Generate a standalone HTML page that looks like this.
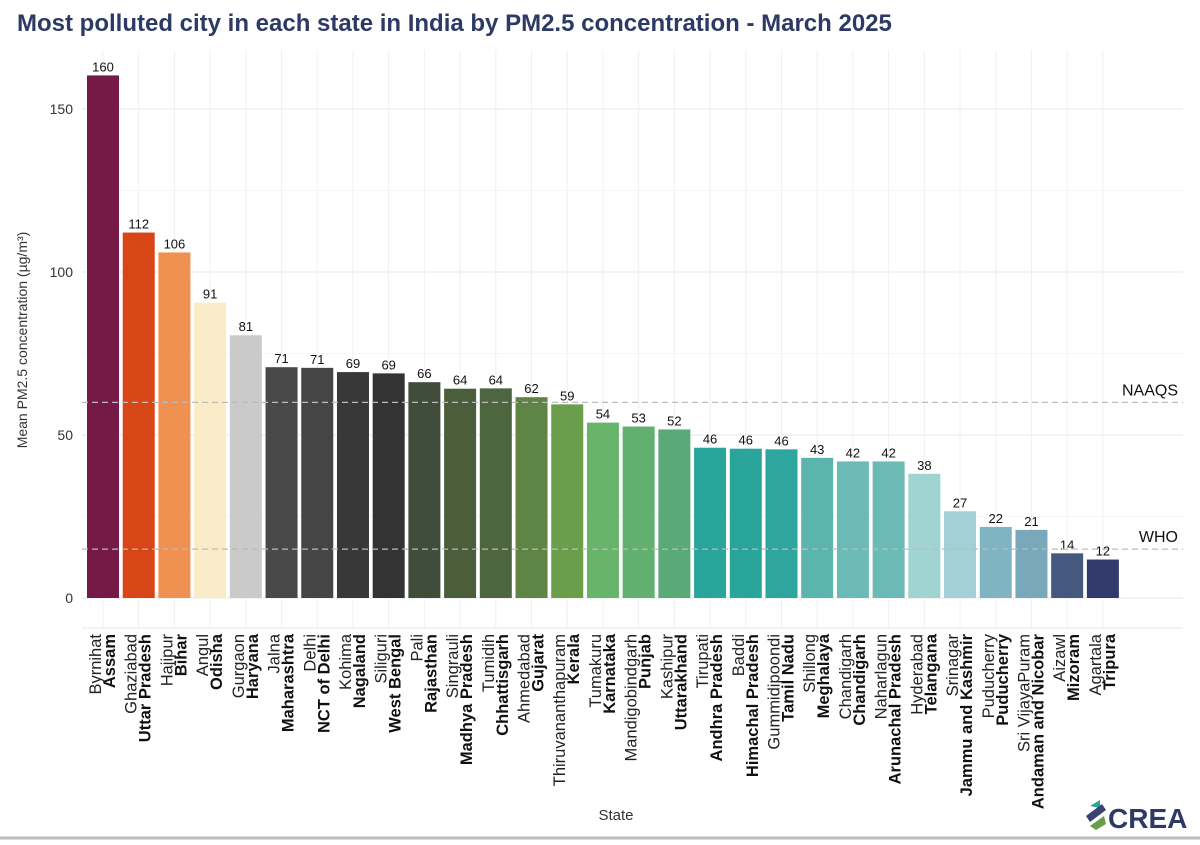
<!DOCTYPE html>
<html><head><meta charset="utf-8"><style>
body{margin:0;background:#fff;width:1200px;height:840px;overflow:hidden;font-family:"Liberation Sans",sans-serif}
</style></head><body>
<svg id="chart" width="1200" height="840" xmlns="http://www.w3.org/2000/svg">
<text x="17" y="31" font-size="24" font-weight="bold" fill="#2e3a66">Most polluted city in each state in India by PM2.5 concentration - March 2025</text>
<g id="grid"></g><g id="bars"></g><g id="labels"></g>
<text transform="translate(27,340) rotate(-90)" text-anchor="middle" font-size="14" fill="#333">Mean PM2.5 concentration (µg/m³)</text>
<text x="616" y="820" text-anchor="middle" font-size="15" fill="#333">State</text>
<g>
<path d="M1090 806 l10 -6 l0 8 z" fill="#2aa59b"/><path d="M1086 816 l16 -12 l4 6 l-16 12 z" fill="#3a4470"/><path d="M1090 826 l14 -10 l2 8 l-10 6 z" fill="#6a9e4b"/>
<text x="1108" y="828" font-size="28" font-weight="bold" fill="#2e3a66">CREA</text></g>
<line x1="0" y1="838" x2="1200" y2="838" stroke="#bbb" stroke-width="3"/>
</svg>
<script>
const cities=["Byrnihat","Ghaziabad","Hajipur","Angul","Gurgaon","Jalna","Delhi","Kohima","Siliguri","Pali","Singrauli","Tumidih","Ahmedabad","Thiruvananthapuram","Tumakuru","Mandigobindgarh","Kashipur","Tirupati","Baddi","Gummidipoondi","Shillong","Chandigarh","Naharlagun","Hyderabad","Srinagar","Puducherry","Sri VijayaPuram","Aizawl","Agartala"];
const states=["Assam","Uttar Pradesh","Bihar","Odisha","Haryana","Maharashtra","NCT of Delhi","Nagaland","West Bengal","Rajasthan","Madhya Pradesh","Chhattisgarh","Gujarat","Kerala","Karnataka","Punjab","Uttarakhand","Andhra Pradesh","Himachal Pradesh","Tamil Nadu","Meghalaya","Chandigarh","Arunachal Pradesh","Telangana","Jammu and Kashmir","Puducherry","Andaman and Nicobar","Mizoram","Tripura"];
const values=[160.3,112.1,106.0,90.6,80.6,70.8,70.6,69.3,68.9,66.2,64.2,64.3,61.6,59.4,53.8,52.6,51.7,46.1,45.8,45.6,43.0,41.9,41.9,38.1,26.6,21.8,20.9,13.7,11.8];
const colors=["#751a47","#d84516","#ef9150","#faecc9","#cacaca","#484848","#454545","#383838","#333333","#3f4d3a","#4a5e3c","#4d6640","#5e8545","#6a9e4b","#67b46b","#62b070","#5aaa78","#2aa59b","#2aa59b","#2fa69d","#5bb5ae","#6cbab5","#6cbab5","#9fd4d3","#a2d0d6","#80b4c3","#7aa8bb","#45587e","#323b6b"];
const yTicks=[0,50,100,150];
const yMinor=[25,75,125];
const refLines=[{name:"NAAQS",v:60},{name:"WHO",v:15}];
const NS="http://www.w3.org/2000/svg";
const PL=82,PR=1183,PT=50,PB=628;
const y=v=>598-v*3.26;
const step=35.71;
const x=i=>103+i*step;
function mk(tag,attrs,parent){const e=document.createElementNS(NS,tag);for(const k in attrs)e.setAttribute(k,attrs[k]);parent.appendChild(e);return e;}
const grid=document.getElementById('grid'),bars=document.getElementById('bars'),labels=document.getElementById('labels');
yMinor.forEach(t=>{const l=mk('line',{x1:PL,x2:PR,y1:y(t),y2:y(t),stroke:'#f6f6f6','stroke-width':1},grid);

});
yTicks.forEach(t=>{const l=mk('line',{x1:PL,x2:PR,y1:y(t),y2:y(t),stroke:'#ececec','stroke-width':1.2},grid);


const tx=mk('text',{x:73,y:y(t)+5,'text-anchor':'end','font-size':14,fill:'#333'},grid);tx.textContent=t;

});
cities.forEach((c,i)=>{const l=mk('line',{x1:x(i),x2:x(i),y1:PT,y2:PB,stroke:'#f0f0f0','stroke-width':1},grid);

});
mk('line',{x1:PL,x2:PR,y1:PB,y2:PB,stroke:'#ececec','stroke-width':1.2},grid);
values.forEach((v,i)=>{
const r=mk('rect',{x:x(i)-16,y:y(v),width:32,height:y(0)-y(v),fill:colors[i]},bars);


const t=mk('text',{x:x(i),y:y(v)-4,'text-anchor':'middle','font-size':13,fill:'#111'},bars);t.textContent=Math.round(v);


const g=mk('text',{transform:`translate(${x(i)},634) rotate(-90)`,'text-anchor':'end','font-size':16.5,fill:'#222'},labels);


const s1=mk('tspan',{x:0,y:-2},g);s1.textContent=cities[i];
const s2=mk('tspan',{x:0,y:12,'font-weight':'bold',fill:'#111'},g);s2.textContent=states[i];
});
refLines.forEach(r=>{const l=mk('line',{x1:PL,x2:PR,y1:y(r.v),y2:y(r.v),stroke:'#bbb','stroke-width':1.2,'stroke-dasharray':'6,4'},bars);


const t=mk('text',{x:1178,y:y(r.v)-7,'text-anchor':'end','font-size':16,fill:'#111'},bars);t.textContent=r.name;

});
</script>
</body></html>
